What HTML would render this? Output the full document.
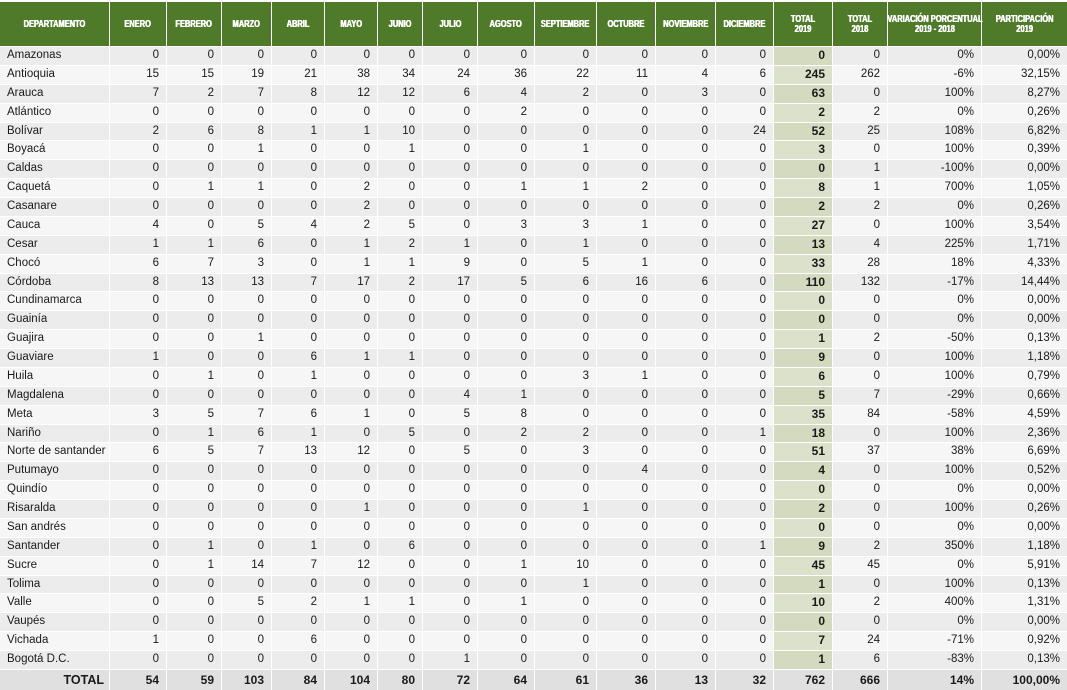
<!DOCTYPE html>
<html><head><meta charset="utf-8">
<style>
html,body{margin:0;padding:0;width:1067px;height:690px;overflow:hidden;background:#fff;}
body{font-family:"Liberation Sans",sans-serif;color:#1a1a1a;}
.wrap{position:absolute;left:0;top:2px;width:1067px;}
.h,.r{display:grid;grid-template-columns:109px 56px 54px 49px 52px 52px 44px 54px 56px 61px 58px 59px 57px 58px 54px 93px 85px;column-gap:1px;}
.h{height:44px;}
.h i{font-style:normal;background:#4e7a2a;color:#fff;font-family:"Liberation Sans",sans-serif;font-weight:bold;font-size:10.5px;line-height:10px;display:flex;align-items:center;justify-content:center;text-align:center;overflow:visible;}
.h i span{display:inline-block;white-space:nowrap;transform:scaleX(0.71);transform-origin:center;text-shadow:0.4px 0 0 #fff,-0.4px 0 0 #fff;}
.r{height:17.88px;margin-top:1px;}
.r i{font-style:normal;background:#f6f6f6;text-align:right;padding-right:7px;line-height:17.88px;font-size:11.5px;white-space:nowrap;overflow:hidden;}
.b .r:nth-child(odd) i{background:#ececec;}
.r i:first-child{text-align:left;padding-left:7px;padding-right:0;}
.r i:nth-child(14){background:#dbe1ca !important;font-weight:bold;font-size:12px;}
.b .r:nth-child(odd) i:nth-child(14){background:#d3dabf !important;}
.r.t{height:20px;}
.r.t i{background:#e0e0e0 !important;font-weight:bold;font-size:12px;line-height:20px;}
.r.t i:first-child{text-align:right;padding-right:5px;font-size:12.5px;}
</style></head><body>
<div class="wrap">
<div class="h"><i><span>DEPARTAMENTO</span></i><i><span>ENERO</span></i><i><span>FEBRERO</span></i><i><span>MARZO</span></i><i><span>ABRIL</span></i><i><span>MAYO</span></i><i><span>JUNIO</span></i><i><span>JULIO</span></i><i><span>AGOSTO</span></i><i><span>SEPTIEMBRE</span></i><i><span>OCTUBRE</span></i><i><span>NOVIEMBRE</span></i><i><span>DICIEMBRE</span></i><i><span>TOTAL<br>2019</span></i><i><span>TOTAL<br>2018</span></i><i><span>VARIACIÓN PORCENTUAL<br>2019 - 2018</span></i><i><span>PARTICIPACIÓN<br>2019</span></i></div>
<div class="b">
<div class="r"><i>Amazonas</i><i>0</i><i>0</i><i>0</i><i>0</i><i>0</i><i>0</i><i>0</i><i>0</i><i>0</i><i>0</i><i>0</i><i>0</i><i>0</i><i>0</i><i>0%</i><i>0,00%</i></div>
<div class="r"><i>Antioquia</i><i>15</i><i>15</i><i>19</i><i>21</i><i>38</i><i>34</i><i>24</i><i>36</i><i>22</i><i>11</i><i>4</i><i>6</i><i>245</i><i>262</i><i>-6%</i><i>32,15%</i></div>
<div class="r"><i>Arauca</i><i>7</i><i>2</i><i>7</i><i>8</i><i>12</i><i>12</i><i>6</i><i>4</i><i>2</i><i>0</i><i>3</i><i>0</i><i>63</i><i>0</i><i>100%</i><i>8,27%</i></div>
<div class="r"><i>Atlántico</i><i>0</i><i>0</i><i>0</i><i>0</i><i>0</i><i>0</i><i>0</i><i>2</i><i>0</i><i>0</i><i>0</i><i>0</i><i>2</i><i>2</i><i>0%</i><i>0,26%</i></div>
<div class="r"><i>Bolívar</i><i>2</i><i>6</i><i>8</i><i>1</i><i>1</i><i>10</i><i>0</i><i>0</i><i>0</i><i>0</i><i>0</i><i>24</i><i>52</i><i>25</i><i>108%</i><i>6,82%</i></div>
<div class="r"><i>Boyacá</i><i>0</i><i>0</i><i>1</i><i>0</i><i>0</i><i>1</i><i>0</i><i>0</i><i>1</i><i>0</i><i>0</i><i>0</i><i>3</i><i>0</i><i>100%</i><i>0,39%</i></div>
<div class="r"><i>Caldas</i><i>0</i><i>0</i><i>0</i><i>0</i><i>0</i><i>0</i><i>0</i><i>0</i><i>0</i><i>0</i><i>0</i><i>0</i><i>0</i><i>1</i><i>-100%</i><i>0,00%</i></div>
<div class="r"><i>Caquetá</i><i>0</i><i>1</i><i>1</i><i>0</i><i>2</i><i>0</i><i>0</i><i>1</i><i>1</i><i>2</i><i>0</i><i>0</i><i>8</i><i>1</i><i>700%</i><i>1,05%</i></div>
<div class="r"><i>Casanare</i><i>0</i><i>0</i><i>0</i><i>0</i><i>2</i><i>0</i><i>0</i><i>0</i><i>0</i><i>0</i><i>0</i><i>0</i><i>2</i><i>2</i><i>0%</i><i>0,26%</i></div>
<div class="r"><i>Cauca</i><i>4</i><i>0</i><i>5</i><i>4</i><i>2</i><i>5</i><i>0</i><i>3</i><i>3</i><i>1</i><i>0</i><i>0</i><i>27</i><i>0</i><i>100%</i><i>3,54%</i></div>
<div class="r"><i>Cesar</i><i>1</i><i>1</i><i>6</i><i>0</i><i>1</i><i>2</i><i>1</i><i>0</i><i>1</i><i>0</i><i>0</i><i>0</i><i>13</i><i>4</i><i>225%</i><i>1,71%</i></div>
<div class="r"><i>Chocó</i><i>6</i><i>7</i><i>3</i><i>0</i><i>1</i><i>1</i><i>9</i><i>0</i><i>5</i><i>1</i><i>0</i><i>0</i><i>33</i><i>28</i><i>18%</i><i>4,33%</i></div>
<div class="r"><i>Córdoba</i><i>8</i><i>13</i><i>13</i><i>7</i><i>17</i><i>2</i><i>17</i><i>5</i><i>6</i><i>16</i><i>6</i><i>0</i><i>110</i><i>132</i><i>-17%</i><i>14,44%</i></div>
<div class="r"><i>Cundinamarca</i><i>0</i><i>0</i><i>0</i><i>0</i><i>0</i><i>0</i><i>0</i><i>0</i><i>0</i><i>0</i><i>0</i><i>0</i><i>0</i><i>0</i><i>0%</i><i>0,00%</i></div>
<div class="r"><i>Guainía</i><i>0</i><i>0</i><i>0</i><i>0</i><i>0</i><i>0</i><i>0</i><i>0</i><i>0</i><i>0</i><i>0</i><i>0</i><i>0</i><i>0</i><i>0%</i><i>0,00%</i></div>
<div class="r"><i>Guajira</i><i>0</i><i>0</i><i>1</i><i>0</i><i>0</i><i>0</i><i>0</i><i>0</i><i>0</i><i>0</i><i>0</i><i>0</i><i>1</i><i>2</i><i>-50%</i><i>0,13%</i></div>
<div class="r"><i>Guaviare</i><i>1</i><i>0</i><i>0</i><i>6</i><i>1</i><i>1</i><i>0</i><i>0</i><i>0</i><i>0</i><i>0</i><i>0</i><i>9</i><i>0</i><i>100%</i><i>1,18%</i></div>
<div class="r"><i>Huila</i><i>0</i><i>1</i><i>0</i><i>1</i><i>0</i><i>0</i><i>0</i><i>0</i><i>3</i><i>1</i><i>0</i><i>0</i><i>6</i><i>0</i><i>100%</i><i>0,79%</i></div>
<div class="r"><i>Magdalena</i><i>0</i><i>0</i><i>0</i><i>0</i><i>0</i><i>0</i><i>4</i><i>1</i><i>0</i><i>0</i><i>0</i><i>0</i><i>5</i><i>7</i><i>-29%</i><i>0,66%</i></div>
<div class="r"><i>Meta</i><i>3</i><i>5</i><i>7</i><i>6</i><i>1</i><i>0</i><i>5</i><i>8</i><i>0</i><i>0</i><i>0</i><i>0</i><i>35</i><i>84</i><i>-58%</i><i>4,59%</i></div>
<div class="r"><i>Nariño</i><i>0</i><i>1</i><i>6</i><i>1</i><i>0</i><i>5</i><i>0</i><i>2</i><i>2</i><i>0</i><i>0</i><i>1</i><i>18</i><i>0</i><i>100%</i><i>2,36%</i></div>
<div class="r"><i>Norte de santander</i><i>6</i><i>5</i><i>7</i><i>13</i><i>12</i><i>0</i><i>5</i><i>0</i><i>3</i><i>0</i><i>0</i><i>0</i><i>51</i><i>37</i><i>38%</i><i>6,69%</i></div>
<div class="r"><i>Putumayo</i><i>0</i><i>0</i><i>0</i><i>0</i><i>0</i><i>0</i><i>0</i><i>0</i><i>0</i><i>4</i><i>0</i><i>0</i><i>4</i><i>0</i><i>100%</i><i>0,52%</i></div>
<div class="r"><i>Quindío</i><i>0</i><i>0</i><i>0</i><i>0</i><i>0</i><i>0</i><i>0</i><i>0</i><i>0</i><i>0</i><i>0</i><i>0</i><i>0</i><i>0</i><i>0%</i><i>0,00%</i></div>
<div class="r"><i>Risaralda</i><i>0</i><i>0</i><i>0</i><i>0</i><i>1</i><i>0</i><i>0</i><i>0</i><i>1</i><i>0</i><i>0</i><i>0</i><i>2</i><i>0</i><i>100%</i><i>0,26%</i></div>
<div class="r"><i>San andrés</i><i>0</i><i>0</i><i>0</i><i>0</i><i>0</i><i>0</i><i>0</i><i>0</i><i>0</i><i>0</i><i>0</i><i>0</i><i>0</i><i>0</i><i>0%</i><i>0,00%</i></div>
<div class="r"><i>Santander</i><i>0</i><i>1</i><i>0</i><i>1</i><i>0</i><i>6</i><i>0</i><i>0</i><i>0</i><i>0</i><i>0</i><i>1</i><i>9</i><i>2</i><i>350%</i><i>1,18%</i></div>
<div class="r"><i>Sucre</i><i>0</i><i>1</i><i>14</i><i>7</i><i>12</i><i>0</i><i>0</i><i>1</i><i>10</i><i>0</i><i>0</i><i>0</i><i>45</i><i>45</i><i>0%</i><i>5,91%</i></div>
<div class="r"><i>Tolima</i><i>0</i><i>0</i><i>0</i><i>0</i><i>0</i><i>0</i><i>0</i><i>0</i><i>1</i><i>0</i><i>0</i><i>0</i><i>1</i><i>0</i><i>100%</i><i>0,13%</i></div>
<div class="r"><i>Valle</i><i>0</i><i>0</i><i>5</i><i>2</i><i>1</i><i>1</i><i>0</i><i>1</i><i>0</i><i>0</i><i>0</i><i>0</i><i>10</i><i>2</i><i>400%</i><i>1,31%</i></div>
<div class="r"><i>Vaupés</i><i>0</i><i>0</i><i>0</i><i>0</i><i>0</i><i>0</i><i>0</i><i>0</i><i>0</i><i>0</i><i>0</i><i>0</i><i>0</i><i>0</i><i>0%</i><i>0,00%</i></div>
<div class="r"><i>Vichada</i><i>1</i><i>0</i><i>0</i><i>6</i><i>0</i><i>0</i><i>0</i><i>0</i><i>0</i><i>0</i><i>0</i><i>0</i><i>7</i><i>24</i><i>-71%</i><i>0,92%</i></div>
<div class="r"><i>Bogotá D.C.</i><i>0</i><i>0</i><i>0</i><i>0</i><i>0</i><i>0</i><i>1</i><i>0</i><i>0</i><i>0</i><i>0</i><i>0</i><i>1</i><i>6</i><i>-83%</i><i>0,13%</i></div>
</div>
<div class="r t"><i>TOTAL</i><i>54</i><i>59</i><i>103</i><i>84</i><i>104</i><i>80</i><i>72</i><i>64</i><i>61</i><i>36</i><i>13</i><i>32</i><i>762</i><i>666</i><i>14%</i><i>100,00%</i></div>
</div>
</body></html>
